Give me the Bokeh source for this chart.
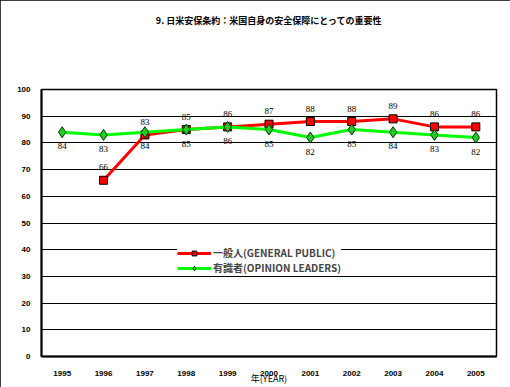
from bokeh.plotting import figure
from bokeh.models import ColumnDataSource, Range1d, FactorRange, LabelSet, Legend, LegendItem, FixedTicker, Title
from bokeh.embed import file_html
from bokeh.resources import INLINE

years = ["1995", "1996", "1997", "1998", "1999", "2000", "2001", "2002", "2003", "2004", "2005"]
public_years = ["1996", "1997", "1998", "1999", "2000", "2001", "2002", "2003", "2004", "2005"]
public_values = [66, 83, 85, 86, 87, 88, 88, 89, 86, 86]
leader_values = [84, 83, 84, 85, 86, 85, 82, 85, 84, 83, 82]
title_text = "9. 日米安保条約：米国自身の安全保障にとっての重要性"
public_name = "一般人(GENERAL PUBLIC)"
leader_name = "有識者(OPINION LEADERS)"
x_title = "年(YEAR)"
y_ticks = [0, 10, 20, 30, 40, 50, 60, 70, 80, 90, 100]

JP = "Noto Sans CJK JP"
NUM = "Liberation Sans"

p = figure(width=510, height=387, output_backend="svg", toolbar_location=None,
           x_range=FactorRange(*years), y_range=Range1d(0, 100),
           min_border_left=41, min_border_right=14, min_border_top=0, min_border_bottom=31)
p.styles = {"outline": "1px solid black", "outline-offset": "-1px"}
p.background_fill_color = "white"
p.border_fill_color = "white"
p.outline_line_color = "black"
p.outline_line_width = 1.5

p.title.text = title_text
p.title.align = "center"
p.title.text_font = JP
p.title.text_font_style = "bold"
p.title.text_font_size = "9px"
p.title.text_color = "black"
p.title.standoff = 22

spacer = Title(text=" ", text_font_size="9px", standoff=40)
p.add_layout(spacer, "above")

p.xgrid.grid_line_color = None
p.ygrid.grid_line_color = "black"
p.ygrid.grid_line_width = 1
p.yaxis.ticker = FixedTicker(ticks=y_ticks)

for ax in (p.xaxis[0], p.yaxis[0]):
    ax.major_tick_line_color = None
    ax.minor_tick_line_color = None
    ax.major_label_text_font = NUM
    ax.major_label_text_font_style = "bold"
    ax.major_label_text_font_size = "8px"
    ax.major_label_text_color = "black"
    ax.axis_line_color = "black"
    ax.axis_line_width = 2
p.yaxis.major_label_standoff = 5
p.xaxis.major_label_standoff = 8

p.xaxis.axis_label = x_title
p.xaxis.axis_label_text_font = JP
p.xaxis.axis_label_text_font_style = "normal"
p.xaxis.axis_label_text_font_size = "9px"
p.xaxis.axis_label_text_color = "black"
p.xaxis.axis_label_standoff = -7

src_pub = ColumnDataSource(dict(x=public_years, y=public_values, t=[str(v) for v in public_values]))
src_lead = ColumnDataSource(dict(x=years, y=leader_values, t=[str(v) for v in leader_values]))

l1 = p.line("x", "y", source=src_pub, line_color="#FF0000", line_width=3)
m1 = p.scatter("x", "y", source=src_pub, marker="square", size=8, fill_color="#FF0000", line_color="black", line_width=1)
l2 = p.line("x", "y", source=src_lead, line_color="#00FF00", line_width=3)
m2 = p.scatter("x", "y", source=src_lead, marker="diamond", size=11, fill_color="#22CC22", line_color="#003300", line_width=1)

p.add_layout(LabelSet(x="x", y="y", text="t", source=src_pub, y_offset=13, text_align="center",
                      text_baseline="middle", text_font=NUM, text_font_size="9px", text_color="black"))
p.add_layout(LabelSet(x="x", y="y", text="t", source=src_lead, y_offset=-14, text_align="center",
                      text_baseline="middle", text_font=NUM, text_font_size="9px", text_color="black"))

legend = Legend(items=[LegendItem(label=public_name, renderers=[l1, m1]),
                       LegendItem(label=leader_name, renderers=[l2, m2])],
                location=(136, 81), orientation="vertical")
legend.background_fill_color = "white"
legend.background_fill_alpha = 1
legend.border_line_color = None
legend.label_text_font = JP
legend.label_text_font_style = "bold"
legend.label_text_font_size = "10px"
legend.glyph_width = 34
legend.glyph_height = 12
legend.label_height = 12
legend.spacing = 0
legend.padding = 3
legend.margin = 0
legend.label_standoff = 2
p.add_layout(legend, "center")

open("out.html", "w").write(file_html(p, INLINE))
